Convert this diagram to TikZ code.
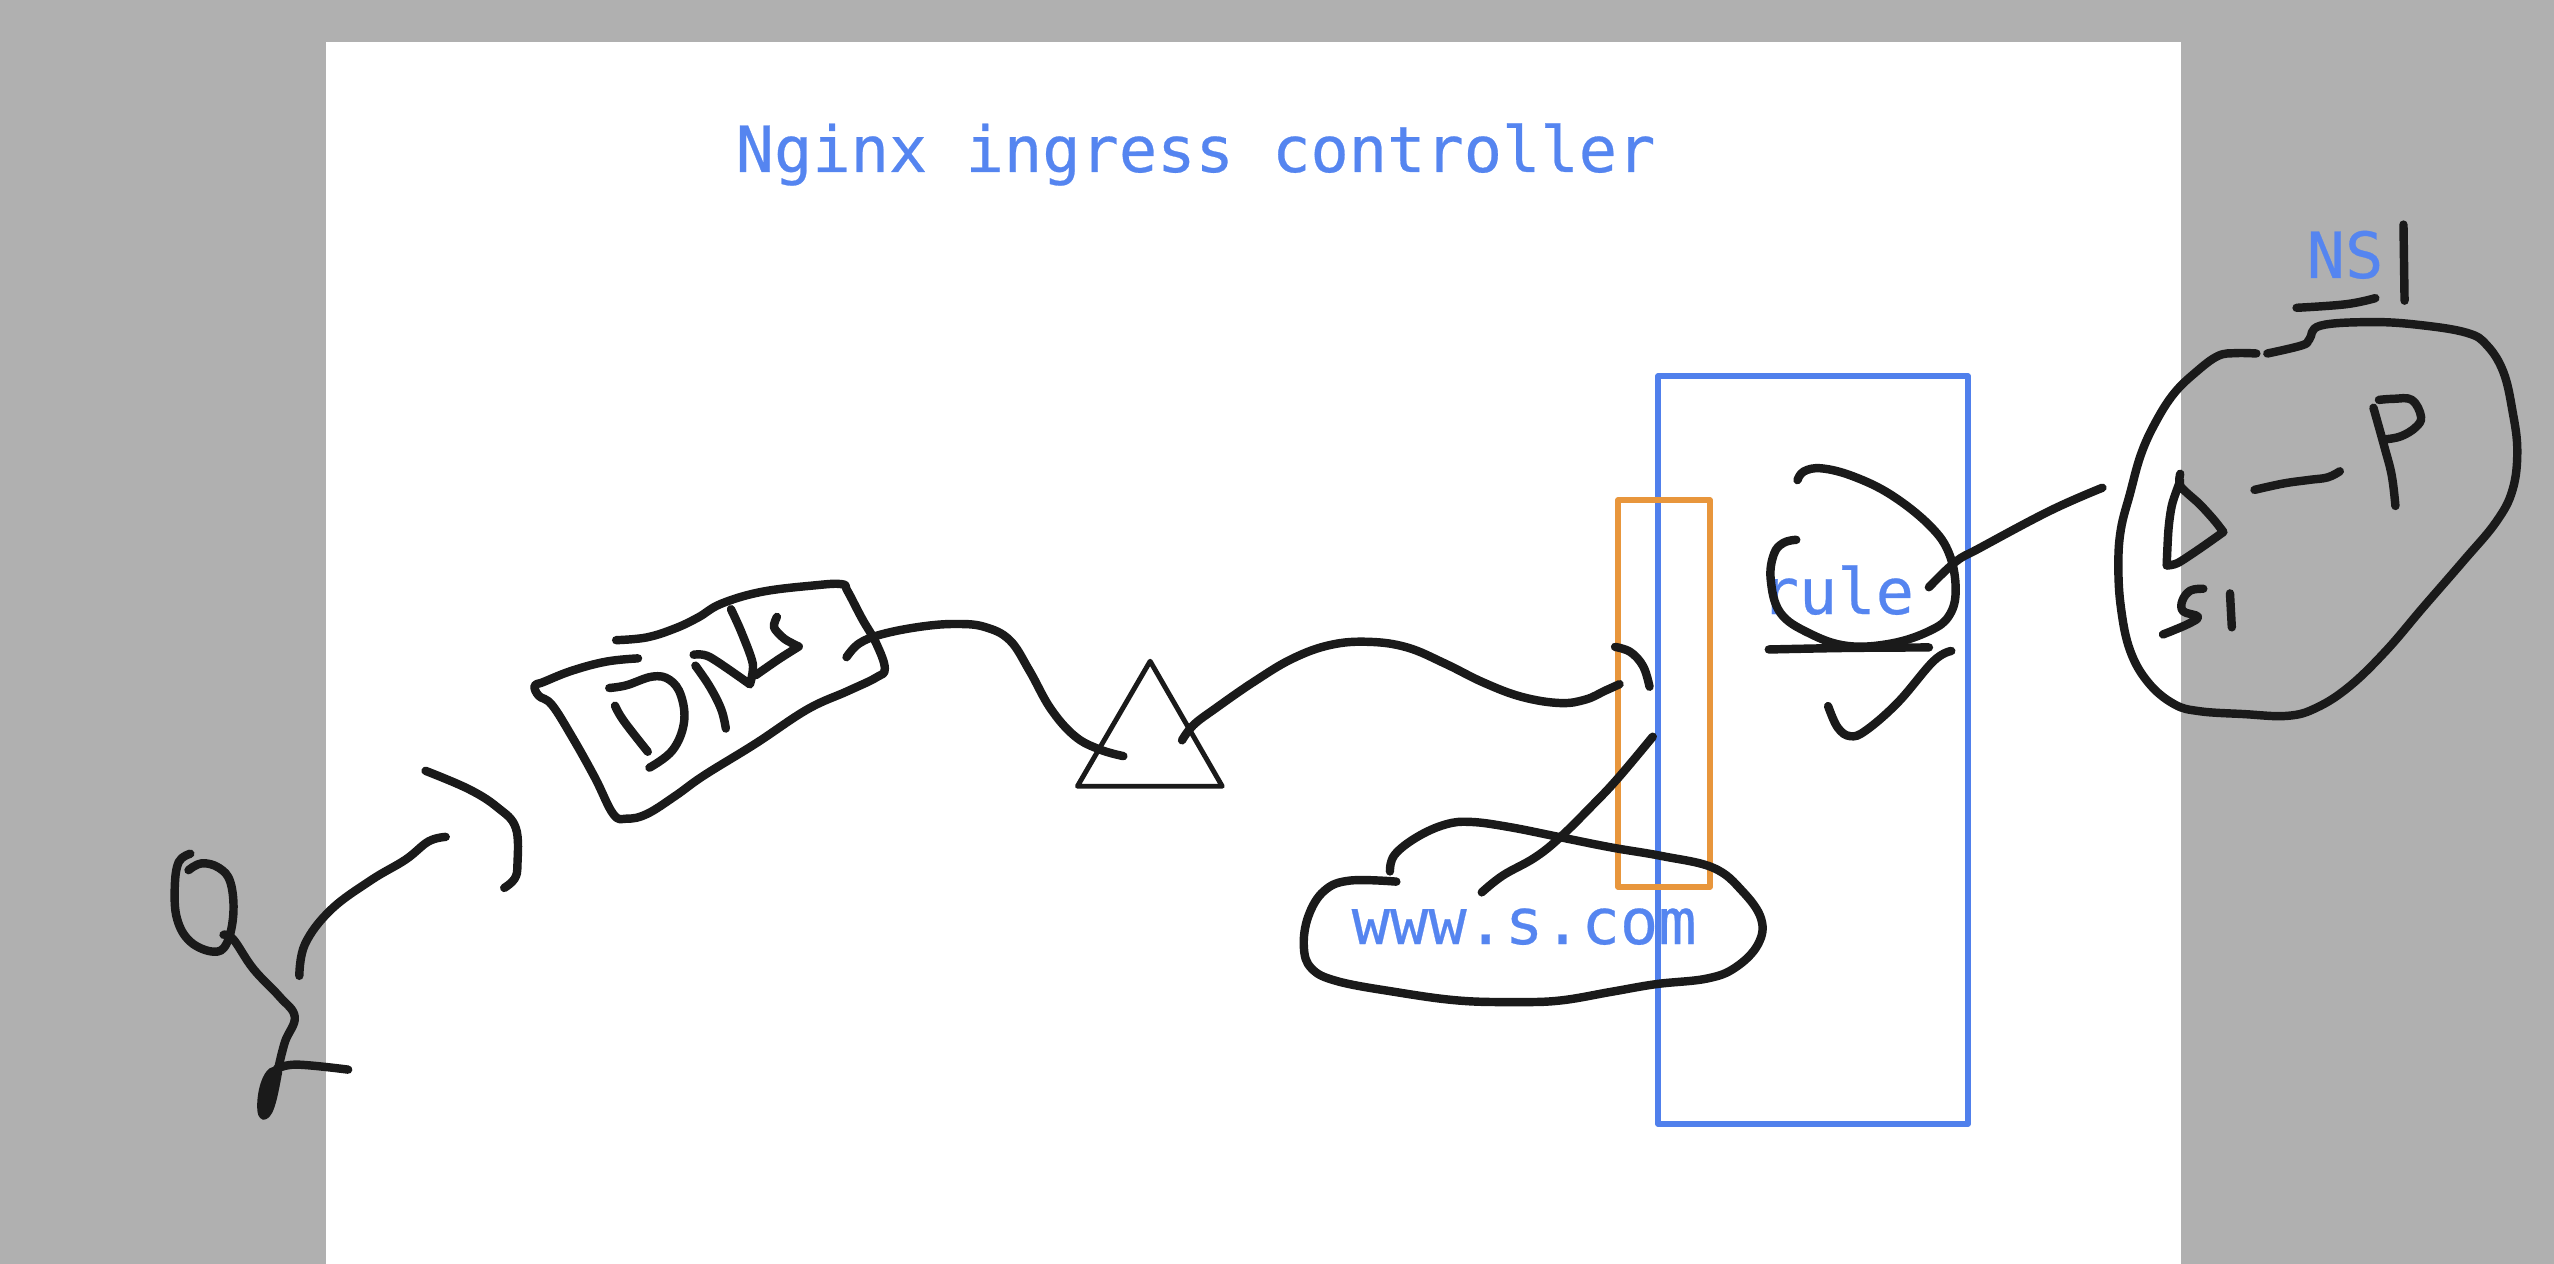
\documentclass[tikz,border=0pt]{standalone}
\usepackage{fontspec}
\newfontfamily\labelfont[FakeBold=0.4]{DejaVu Sans Mono}
\definecolor{pagegray}{HTML}{B0B0B0}
\definecolor{inkblack}{HTML}{1A1A1A}
\definecolor{boxblue}{HTML}{5080EC}
\definecolor{boxorange}{HTML}{E8963C}
\definecolor{textblue}{HTML}{5585F0}
\tikzset{
	ink/.style={color=inkblack, line width=2.4pt, line cap=round, line join=round},
	boxline/.style={line width=1.6pt, line join=round},
	label/.style={color=textblue, anchor=base west, inner sep=0pt, font=\labelfont\fontsize{18.1}{20}\selectfont},
	leftpart/.style={shift={(130,550)}, xscale=.574, yscale=.4554},
	midpart/.style={shift={(1050,350)}, xscale=.6378, yscale=.5102},
	rightpart/.style={shift={(1980,190)}, xscale=.366, yscale=.357}
}
\newcommand{\stroke}[1]{\draw [ink] plot [smooth, tension=.65] coordinates {#1};}
\begin{document}
\begin{tikzpicture}[x=0.01cm, y=-0.01cm]
	\useasboundingbox (0, 0) rectangle (2554, 1264);
	\fill [pagegray] (0, 0) rectangle (2554, 1264);
	\fill [white] (326, 42) rectangle (2181, 1264);

	\draw [boxline, color=boxblue] (1658, 376) rectangle (1968, 1124);
	\draw [boxline, color=boxorange] (1618, 500) rectangle (1710, 887);

	\node [label] (title) at (735, 172) {Nginx ingress controller};
	\node [label] (ruleName) at (1760, 614) {rule};
	\node [label] (hostName) at (1351, 944) {www.s.com};
	\node [label] (nsName) at (2306, 278) {NS};

	% person and the way to dns
	\begin{scope}[leftpart]
		\stroke{(105,667) (85,685) (78,740) (82,810) (105,860) (145,882) (168,865) (180,800) (175,730) (155,698) (125,688) (102,703)}
		\stroke{(163,845) (180,855) (215,920) (260,980) (287,1025) (270,1080) (258,1140)}
		\filldraw [ink] (248,1145) .. controls (228,1165) and (225,1240) .. (233,1242) .. controls (245,1240) and (252,1185) .. (258,1145) -- cycle;
		\stroke{(255,1140) (290,1130) (380,1141)}
		\stroke{(295,935) (305,865) (350,790) (420,725) (480,680) (520,640) (550,630)}
		\stroke{(515,485) (590,525) (640,565) (672,610) (675,690) (670,722) (652,742)}
		% dns box
		\stroke{(885,238) (830,245) (770,265) (720,290) (705,298) (712,320) (735,340) (770,410) (810,500) (842,580) (865,590) (900,580) (950,540) (1000,495) (1090,425) (1180,350) (1250,310) (1300,280) (1315,260) (1300,205) (1275,150) (1250,90) (1240,75) (1190,78) (1100,92) (1030,118) (990,148) (950,172) (900,192) (847,198)}
		\stroke{(835,303) (865,297) (910,278) (940,285) (960,320) (965,380) (945,440) (905,478)}
		\stroke{(845,342) (860,375) (902,443)}
		\stroke{(985,254) (1010,300) (1030,350) (1038,392)}
		\draw [ink] plot [smooth] coordinates {(982,230) (1010,235) (1080,295)} -- plot [smooth] coordinates {(1080,295) (1085,250) (1065,180) (1047,130)};
		\draw [ink] plot [smooth] coordinates {(1127,147) (1122,170) (1140,195) (1165,212)} -- plot [smooth] coordinates {(1165,212) (1130,240) (1090,275)};
	\end{scope}

	% ingress side
	\begin{scope}[midpart]
		\stroke{(-319,602) (-299,575) (-263,557) (-201,542) (-146,537) (-102,543) (-63,569) (-32,629) (1,703) (39,757) (78,783) (115,796)}
		\draw [color=inkblack, line width=1.4pt, line join=round] (157,610) -- (270,855) -- (43,855) -- cycle;
		\stroke{(207,765) (225,735) (260,702) (320,650) (380,605) (440,578) (500,572) (560,583) (620,615) (680,652) (740,680) (800,692) (840,685) (870,668) (893,655)}
		\stroke{(886,582) (910,592) (930,620) (940,660)}
		\stroke{(945,758) (890,840) (850,893) (800,955) (760,995) (710,1030) (677,1063)}
		% host cloud
		\stroke{(533,1022) (540,990) (575,955) (620,930) (660,925) (720,935) (800,955) (880,975) (960,992) (1040,1015) (1085,1060) (1115,1115) (1110,1165) (1075,1210) (1030,1232) (950,1243) (880,1258) (800,1275) (730,1278) (640,1275) (540,1258) (450,1237) (410,1212) (398,1170) (405,1110) (430,1060) (470,1040) (543,1042)}
		% rule mark
		\stroke{(1172,255) (1182,238) (1210,232) (1260,248) (1320,285) (1380,345) (1410,400) (1420,470) (1410,520) (1380,550) (1320,575) (1250,580) (1190,555) (1145,515) (1130,450) (1135,400) (1150,378) (1170,372)}
		\stroke{(1127,587) (1250,584) (1378,583)}
		\stroke{(1220,698) (1235,740) (1255,757) (1280,745) (1330,690) (1385,610) (1413,590)}
		\stroke{(1378,465) (1420,415) (1458,388) (1568,315) (1650,270)}
	\end{scope}

	% namespace
	\begin{scope}[rightpart]
		\stroke{(785,458) (880,435) (900,418) (930,380) (1070,370) (1200,378) (1330,400) (1385,435) (1430,510) (1455,620) (1468,730) (1455,840) (1410,930) (1320,1040) (1210,1170) (1110,1290) (1010,1390) (920,1450) (840,1473) (720,1468) (600,1460) (530,1440) (460,1380) (410,1290) (385,1170) (378,1050) (385,950) (410,850) (440,740) (480,650) (530,570) (590,510) (650,465) (700,457) (755,458)}
		\stroke{(865,330) (1000,320) (1080,303)}
		\stroke{(1157,97) (1160,310)}
		\draw [ink] plot [smooth] coordinates {(547,795) (548,830) (600,880) (640,925) (665,958)} -- plot [smooth] coordinates {(665,958) (600,1005) (540,1045) (510,1052)} -- plot [smooth] coordinates {(510,1052) (515,950) (525,880) (547,815)};
		\stroke{(750,840) (830,822) (900,812) (950,805) (983,788)}
		\stroke{(1075,610) (1105,720) (1125,800) (1135,885)}
		\stroke{(1090,588) (1130,585) (1180,588) (1205,635) (1190,665) (1150,690) (1110,698)}
		\stroke{(610,1117) (575,1122) (553,1150) (555,1180) (595,1195) (570,1215) (500,1245)}
		\stroke{(683,1130) (688,1225)}
	\end{scope}
\end{tikzpicture}
\end{document}
